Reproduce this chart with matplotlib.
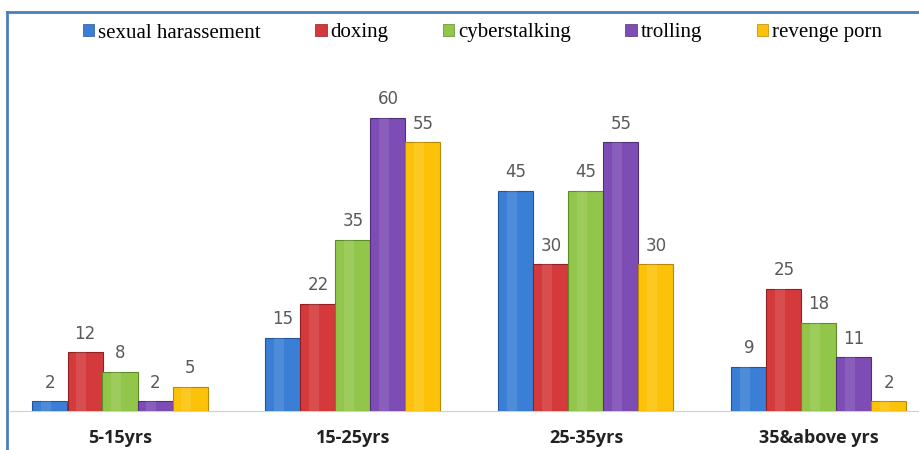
import numpy as np
import matplotlib.pyplot as plt
from matplotlib.lines import Line2D
from matplotlib.patches import Patch

age_groups = ['5-15yrs', '15-25yrs', '25-35yrs', '35&above yrs']
series = ['sexual harassement', 'doxing', 'cyberstalking', 'trolling', 'revenge porn']
sexual_harassement = [2, 15, 45, 9]
doxing = [12, 22, 30, 25]
cyberstalking = [8, 35, 45, 18]
trolling = [2, 60, 55, 11]
revenge_porn = [5, 55, 30, 2]

values = [sexual_harassement, doxing, cyberstalking, trolling, revenge_porn]
colors = ['#3a7fd5', '#d43a3c', '#92c64a', '#7d4cb4', '#fcc20a']
edges = ['#21569a', '#8f2022', '#5f8a2a', '#51307a', '#b88800']

fig = plt.figure(figsize=(9.19, 4.5), dpi=100)
ax = fig.add_axes([10 / 919, 39 / 450, 909 / 919, 342 / 450])

x = np.arange(len(age_groups))
width = 35 / 233
for i, (vals, col, ec) in enumerate(zip(values, colors, edges)):
    pos = x + (i - 2) * width
    ax.bar(pos, vals, width, color=col, edgecolor=ec, linewidth=0.8, zorder=3)
    # soft highlight to hint at the 3D look
    ax.bar(pos - width * 0.12, vals, width * 0.3, color='white', alpha=0.1,
           linewidth=0, zorder=4)
    for p, v in zip(pos, vals):
        ax.annotate(str(v), (p, v), xytext=(0, 7), textcoords='offset points',
                    ha='center', va='bottom', fontsize=12, color='#595959',
                    family='DejaVu Sans')

ax.set_xlim(-110 / 233, 799 / 233)
ax.set_ylim(0, 70)
ax.set_yticks([])
ax.set_xticks(x)
ax.set_xticklabels(age_groups, fontsize=13, fontweight='bold', family='Open Sans',
                   color='#222222')
ax.tick_params(axis='x', length=0, pad=13)
for s in ['top', 'right', 'left']:
    ax.spines[s].set_visible(False)
ax.spines['bottom'].set_color('#d0d0d0')
ax.spines['bottom'].set_bounds(-110 / 233, 3.87)

# blue frame on top and left
fig.add_artist(Line2D([7 / 919, 7 / 919], [0, 1 - 12 / 450], color='#4a7ebb', lw=2))
fig.add_artist(Line2D([7 / 919, 1], [1 - 12 / 450, 1 - 12 / 450], color='#4a7ebb', lw=2))

handles = [Patch(facecolor=c, edgecolor=e, linewidth=0.5) for c, e in zip(colors, edges)]
fig.legend(handles, series, loc='center', bbox_to_anchor=(0.525, 1 - 33 / 450), ncol=5,
           frameon=False, prop={'family': 'Liberation Serif', 'size': 15},
           handlelength=0.55, handleheight=0.55, handletextpad=0.2, columnspacing=2.6)

fig.savefig('out.png', dpi=100)
